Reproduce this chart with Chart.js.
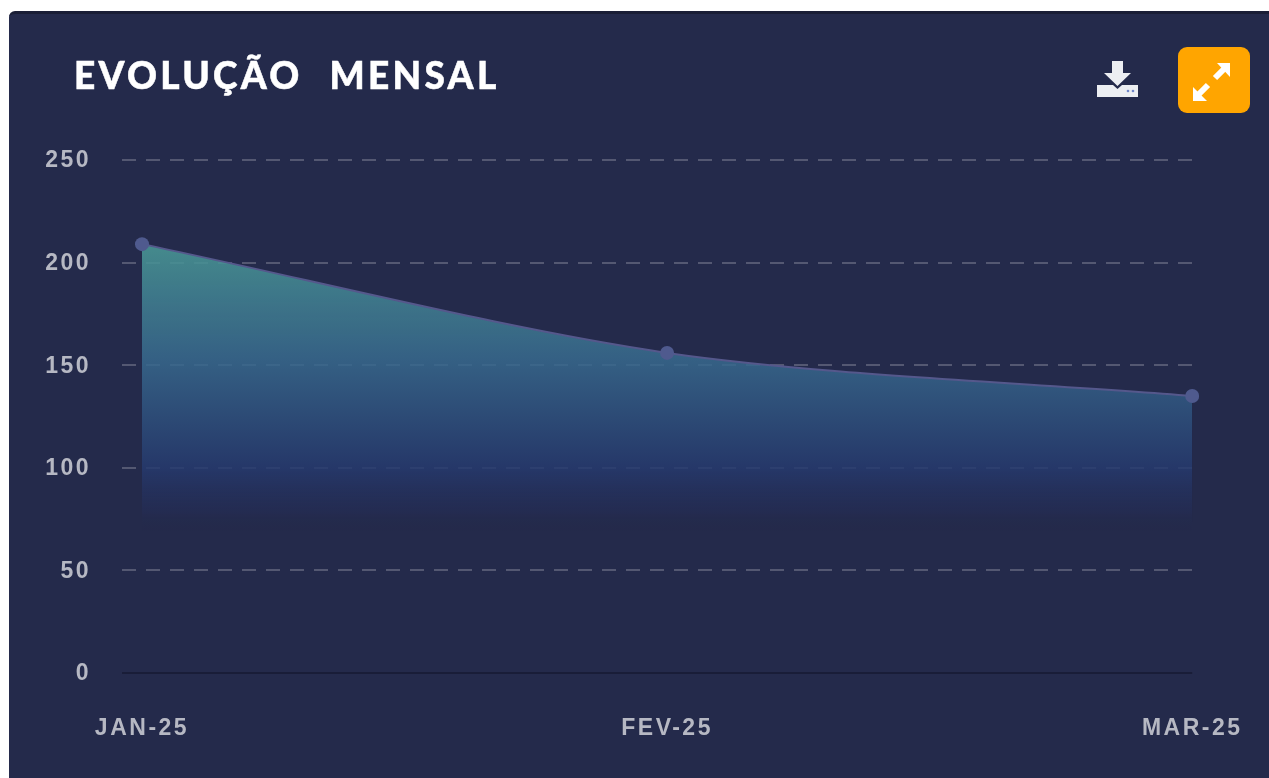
<!DOCTYPE html>
<html lang="pt">
<head>
<meta charset="utf-8">
<title>Evolução Mensal</title>
<script src="https://cdn.jsdelivr.net/npm/chart.js@4"></script>
<style>
  html, body { margin: 0; background: #fff; overflow: hidden; }
  #card { position: absolute; left: 9px; top: 11px; width: 1260px; height: 767px; background: #242a4b;
    border-top: 3px solid #1a1e36; box-sizing: border-box; border-top-left-radius: 6px; }
  #page { position: absolute; left: 0; top: 0; width: 1269px; height: 778px; filter: blur(0.6px); }
  #chart { position: absolute; left: 0; top: 0; }
  #title { position: absolute; left: 74px; top: 52px; color: #fff; font: 900 37px Lato, sans-serif;
    letter-spacing: 3.3px; word-spacing: 15px; white-space: nowrap; -webkit-text-stroke: 0.5px #fff; }
  #download { position: absolute; left: 1097px; top: 60px; }
  #expand { position: absolute; left: 1178px; top: 47px; width: 72px; height: 66px; background: #ffa500; border-radius: 9px; }
</style>
</head>
<body>
<div id="page">
  <div id="card"></div>
  <canvas id="chart" width="1269" height="778"></canvas>
  <div id="title">EVOLUÇÃO MENSAL</div>
  <svg id="download" width="42" height="38" viewBox="0 0 42 38">
    <path fill="#eceef2" d="M15 1h11v12h8L20.500 26 7 13h8z"/>
    <path fill="#eceef2" d="M0 25h16l4.500 4 4.500-4h16v12H0z"/>
    <circle cx="31" cy="31" r="1.300" fill="#6f86c8"/><circle cx="36" cy="31" r="1.300" fill="#6f86c8"/>
  </svg>
  <svg id="expand" viewBox="0 0 72 66">
    <path fill="#fff" d="M39 16h13v14z"/>
    <path fill="#fff" d="M15 40v14h14z"/>
    <path stroke="#fff" stroke-width="6" d="M46 22l-9 9M30 38l-9 9"/>
  </svg>
</div>
<script>
const categories = ['JAN-25', 'FEV-25', 'MAR-25'];
const monthlyValues = [209, 156, 135];
const yMin = 0;
const yMax = 250;
const yStep = 50;

const ctx = document.getElementById('chart');

function areaGradient(context) {
  const chart = context.chart;
  if (!chart.chartArea) return 'rgba(0,0,0,0)';
  const y = chart.scales.y;
  const g = chart.ctx.createLinearGradient(0, y.getPixelForValue(209), 0, y.getPixelForValue(69));
  g.addColorStop(0, 'rgba(74, 152, 150, 0.88)');
  g.addColorStop(0.4, 'rgba(56, 106, 142, 0.85)');
  g.addColorStop(0.78, 'rgba(38, 58, 110, 0.85)');
  g.addColorStop(0.92, 'rgba(36, 46, 88, 0.6)');
  g.addColorStop(1, 'rgba(36, 42, 75, 0)');
  return g;
}

const isZero = c => c.tick && c.tick.value === 0;

new Chart(ctx, {
  type: 'line',
  data: {
    labels: categories,
    datasets: [{
      data: monthlyValues,
      fill: 'origin',
      backgroundColor: areaGradient,
      borderColor: '#55588c',
      borderWidth: 2,
      tension: 0.3,
      pointRadius: 7,
      pointBorderWidth: 0,
      pointBackgroundColor: '#4f5a8e'
    }]
  },
  options: {
    responsive: false,
    animation: false,
    layout: { padding: { left: 0, top: 160, right: 69, bottom: 0 } },
    scales: {
      x: {
        afterFit: s => { s.height = 105; },
        border: { display: false },
        grid: { display: false },
        ticks: {
          color: '#b6b8c3',
          padding: 34,
          maxRotation: 0,
          font: { family: 'Liberation Sans', size: 23, weight: 'bold' }
        }
      },
      y: {
        min: yMin,
        max: yMax,
        afterFit: s => { s.width = 142; },
        border: { display: false, dash: c => isZero(c) ? [] : [14, 10], dashOffset: 20 },
        grid: {
          color: c => isZero(c) ? '#191d38' : 'rgba(255,255,255,0.22)',
          tickColor: c => isZero(c) ? '#191d38' : 'rgba(255,255,255,0.22)',
          tickLength: 20,
          tickBorderDash: c => isZero(c) ? [] : [14, 10],
          lineWidth: 2
        },
        ticks: {
          stepSize: yStep,
          color: '#b6b8c3',
          padding: 31,
          labelOffset: 1,
          font: { family: 'Liberation Sans', size: 23, weight: 'bold' }
        }
      }
    },
    plugins: {
      legend: { display: false },
      tooltip: { enabled: false }
    }
  },
  plugins: [{
    id: 'tickSpacing',
    beforeDraw: chart => { chart.ctx.letterSpacing = '2.5px'; }
  }]
});
</script>
</body>
</html>
